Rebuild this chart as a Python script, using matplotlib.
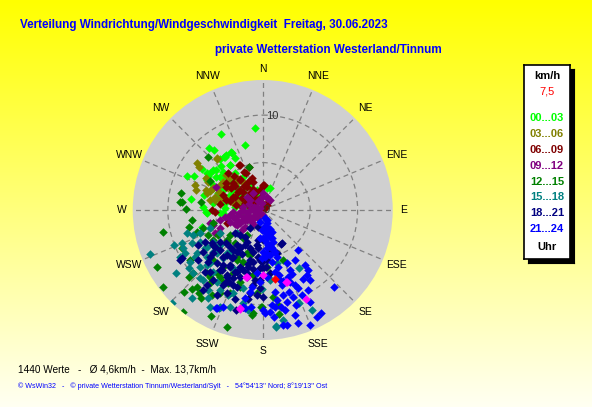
import numpy as np
import matplotlib.pyplot as plt

# Windvektoren (Ost-, Nord-Komponente in km/h) je Stundenblock
e_00 = [-0.84, -4.35, -1.89, -5.68, -5.16, -3.30, -4.04, -3.82, -2.95, -4.53, -3.40, -6.35, -4.42, -5.23,
        -5.86, -4.18, -2.95, -2.07, -7.93, -7.26, -5.72, -4.95, -4.11, -3.19, -1.44, -0.56, 0.74, -5.23,
        -7.51, -6.21, -4.70, -3.12, -4.00, -2.42, -1.72, -1.02, -4.18, -1.37, -2.07, -5.89, -6.32, -5.93,
        -6.35, -4.18,
        -3.97, -3.27, -3.45, -4.92, -5.55, -5.90, -4.50, -3.79, -3.10, -2.74, -4.15, -4.68, -3.45, -2.04,
        -1.34, -2.39, -2.92, -3.97, -5.21, -4.50, -1.87, -0.99, 0.42, -0.46, -1.34]
n_00 = [8.63, 7.96, 6.84, 6.49, 6.28, 6.07, 5.61, 5.79, 5.51, 5.37, 4.74, 4.28, 4.67, 4.21,
        3.89, 4.04, 3.93, 3.51, 3.54, 3.54, 3.58, 3.51, 3.44, 2.81, 2.98, 2.11, 2.28, 2.63,
        1.16, 1.54, 1.40, 1.93, 0.77, 1.40, 2.46, 1.23, 2.46, 0.28, -0.18, -0.35, 0.35, -0.18,
        -1.82, -0.35,
        5.62, 5.97, 4.74, 4.21, 3.86, 3.16, 3.51, 2.81, 3.16, 2.46, 2.11, 1.76, 1.58, 1.76,
        1.05, 0.88, 0.35, 0.18, 0.70, -0.35, 0.18, 0.18, 2.28, 1.40, 2.46]

e_03 = [-6.88, -6.70, -4.81, -7.16, -7.05, -6.00, -5.58, -5.23, -4.53, -4.18, -3.82, -3.54, -5.05, -5.58,
        -4.60, -3.47, -2.77, -2.07, -2.60, -1.37, -0.49, -5.93,
        -4.85, -5.73, -5.21, -5.90, -3.62, -2.74, -2.04, -1.69, -3.27, -3.97, -4.50, -2.74, -5.03]
n_03 = [4.98, 4.56, 5.33, 2.63, 2.11, 2.11, 2.04, 2.28, 2.63, 2.98, 3.68, 3.33, 1.05, 1.05,
        1.93, 2.46, 2.81, 2.98, 0.88, 1.40, 1.05, 3.33,
        5.44, 2.98, 2.28, 1.76, 2.28, 3.34, 2.98, 1.05, 0.88, 1.23, 1.05, 1.76, 1.40]

e_06 = [-2.42, -3.65, -2.42, -1.44, -1.72, 0.14, -5.30, -3.82, -3.12, -2.07, -1.37, -0.84, -0.14, 0.04,
        -2.77, -4.18, -3.30, -1.89, -0.49, 0.42, -0.98, -3.79, -5.02, -3.86, -2.39, 0.00,
        -2.00, -1.00, -2.60, -1.60, -3.40, -0.70, -2.20, -1.20, -0.30, -3.00, -2.00, -3.90, -1.10, -4.50,
        -2.90,
        -2.46, 0.07, -3.10, -2.39, -1.69, -0.99, -0.63, -0.11, 0.24, -1.34, -2.21, -2.92, -0.46, 0.42,
        -0.99]
n_06 = [4.74, 3.86, 3.23, 4.56, 3.86, 2.63, 0.00, 1.05, 1.40, 1.93, 1.75, 0.70, 1.40, 0.35,
        0.53, 1.58, 2.28, 0.70, 0.00, 0.70, 1.40, -1.40, -0.18, 2.81, 3.16, 2.53,
        2.50, 2.20, 1.90, 2.90, 1.00, 1.90, 0.30, 0.90, 2.10, 3.60, 4.00, 2.40, 3.40, 0.60,
        2.50,
        4.74, 2.63, 2.81, 2.11, 2.46, 1.93, 1.05, 0.70, 0.18, 0.35, 1.23, 1.40, -0.18, 0.53,
        2.98]

e_09 = [0.07, 0.42, -0.11, -0.63, -1.33, -1.68, -2.04, -2.39, -1.86, -1.16, -0.81, -0.28, -2.74, -3.09,
        -3.44, -3.96, -4.49, -5.19, -5.02, -4.56, -5.54, -1.33, -2.04, -0.98, -1.68, -0.28, -2.21, -1.51,
        -4.88, -0.90, -1.90, -2.50, -1.00, -0.50, -1.40, -2.90, -0.60,
        -2.04, -1.52, -0.99, -0.46, -1.69, -2.57, -0.11, 0.42, 0.77, -3.10, -3.62, 0.07, -0.81,
        -5.21, -4.50, -3.45, -2.74, -2.04, -1.34]
n_09 = [1.75, 1.23, 0.70, 0.35, 0.00, -0.35, -0.70, -1.40, -1.75, -1.23, -0.70, -0.35, -1.05, -0.70,
        -0.53, -0.70, -1.05, -1.40, -2.46, -2.28, -1.40, 1.05, 0.35, 1.75, 1.40, 0.18, -2.11, -0.88,
        2.46, 0.30, -1.10, -0.30, -1.50, 1.00, 0.60, -1.50, -0.20,
        0.00, -0.53, -0.70, -0.88, -1.05, -0.53, 1.40, 1.40, 1.05, -0.18, -0.70, -0.53, -0.18,
        -1.58, -1.93, -1.23, -1.58, -1.05, -0.88]

e_12 = [-5.79, -8.70, -10.46, -7.82, -8.53, -7.65, -7.72, -10.56, -7.47, -8.35, -6.70, -5.37, -3.72, -1.16,
        -5.89, -5.19, -4.67, -3.79, -3.44, -2.74, -4.14, -3.09, -2.39, -1.68, -2.04, -4.84, -5.54, -4.49,
        -3.44, -0.63, -0.11, 0.60, 1.12, 1.65, 2.18, -8.63, -8.56, -8.04, -6.46, -5.58, -1.44, 0.42,
        -0.18, 1.72,
        -7.48, -6.96, -6.26, -5.73, -5.21, -4.68, -3.79, -3.45, -2.92, -1.69, -2.74, -2.04, -1.34, -7.31,
        -6.96, -4.50, -3.62, -2.39, -0.99, -5.21,
        -11.19, -8.32, -5.40, -6.46, -1.02, -5.58, -4.18]
n_12 = [5.54, 0.88, -2.35, -1.75, -4.04, -5.26, -7.02, -8.07, -8.35, -10.70, -8.77, -8.95, -12.35, -11.05,
        -6.67, -5.26, -3.86, -3.16, -4.56, -5.26, -5.96, -6.67, -8.07, -4.56, -2.98, -6.67, -7.72, -8.77,
        -8.77, -8.77, -10.18, -7.02, -9.12, -10.00, -5.26, 1.79, 0.81, 0.11, 0.88, 3.05, 4.49, -5.96,
        -10.18, -10.98,
        -1.05, -2.29, -1.93, -2.63, -3.16, -2.63, -3.34, -2.63, -3.51, -2.63, -4.92, -5.45, -4.74, -6.67,
        -8.08, -7.03, -7.72, -7.55, -6.85, -1.40,
        -6.04, -8.60, -11.16, -9.30, -10.88, -7.02, -7.54]

e_15 = [-11.93, -9.58, -9.40, -8.53, -8.18, -7.30, -6.60, -6.95, -5.89, -6.60, -7.30, -6.25, -7.47, -5.72,
        -4.49, -3.44, -5.54, -4.56, -3.09, -2.04, 1.40, 2.18, 3.75, 5.16, 1.47, 0.77, -3.79, -4.49,
        -5.19, -2.74, -5.89, -5.54, -4.84, -7.82, -8.70, 3.86, 3.86, 1.37, -0.04,
        -8.01, -7.48, -8.36, -7.13, -7.66, -6.08, -6.61, -5.21, -5.90, -5.21, -4.85, -6.61, -4.15, -3.45,
        -4.50, -5.55, -3.10,
        -9.09, -5.75, -4.53, -1.54, -2.07, -3.65]
n_15 = [-4.63, -9.82, -3.68, -3.51, -4.56, -2.63, -2.46, -4.56, -4.91, -5.96, -6.67, -7.37, -9.30, -9.30,
        -8.42, -10.18, -10.18, -10.35, -8.77, -9.82, -12.28, -11.58, -9.82, -10.53, -5.61, -7.37, -4.56, -2.46,
        -3.33, -2.46, -3.86, -5.61, -4.56, -6.14, -4.91, -6.14, -9.82, -12.21, -8.32,
        -2.46, -3.51, -4.04, -4.92, -5.45, -4.04, -3.34, -4.39, -5.80, -6.50, -7.55, -7.20, -5.09, -4.39,
        -3.69, -1.93, -6.14,
        -6.67, -8.42, -10.18, -10.53, -8.25, -8.95]

e_18 = [-8.70, -6.77, -6.07, -5.19, -4.84, -4.14, -3.44, -2.74, -1.68, -0.46, 0.07, 0.77, -1.33, -2.39,
        -3.79, -3.44, -1.68, -0.81, -0.28, 0.42, 1.47, 2.00, -2.74, -1.33, -3.79, -4.84, -2.04, 0.07,
        0.77, -6.77, -5.72, -4.49, -3.09, -2.39, -0.98, 0.42, 0.77, -0.46, 1.93, 1.37, 0.07, -0.11,
        -0.63, -3.90, -3.10, -2.20, -1.60, -1.00, -2.90, -4.30, -5.20, -3.60, -2.40, -1.00, -0.30, 0.30,
        -0.50, -1.90, -5.60, -6.30, -2.90, -1.60,
        -5.37, -5.03, -4.50, -3.79, -3.27, -2.74, -2.39, -1.87, -1.34, -0.63, -4.15, -3.45, -2.74, -2.04,
        -1.52, -0.99, -0.46, -0.28, -1.69, -3.10, -3.79, -4.50, -2.39, -1.34, -2.92, -5.55, -6.08, -5.21,
        -5.90, -4.15, -8.54,
        -6.28, -3.82, -3.12, -0.32, -2.77]
n_18 = [-5.26, -3.68, -3.33, -3.68, -5.61, -4.91, -3.86, -3.68, -3.33, -3.16, -3.16, -4.21, -5.26, -5.96,
        -7.02, -5.96, -6.67, -7.37, -5.26, -5.26, -4.56, -3.51, -8.07, -8.77, -8.77, -8.95, -10.18, -9.12,
        -6.67, -5.26, -5.44, -3.33, -4.91, -3.86, -4.39, -2.46, -2.28, -1.75, -3.58, -4.56, -6.14, -5.44,
        -8.95, -3.50, -4.20, -4.60, -5.70, -6.20, -6.50, -6.30, -4.50, -7.60, -7.10, -7.90, -7.40, -6.00,
        -4.00, -2.80, -6.50, -4.40, -9.40, -9.40,
        -3.51, -3.87, -4.22, -4.74, -5.09, -4.39, -4.04, -3.69, -4.04, -3.69, -5.80, -5.80, -6.50, -6.32,
        -5.97, -5.45, -4.92, -6.14, -7.03, -7.20, -6.85, -6.32, -2.63, -1.93, -2.46, -4.92, -6.50, -7.38,
        -7.90, -7.90, -5.09,
        -8.42, -7.54, -7.89, -8.25, -10.53]

e_21 = [3.75, 3.40, 4.46, 4.81, 4.63, 2.88, 2.70, 2.88, 3.40, 4.81, 3.75, 4.11, 4.98, 3.23,
        2.53, 1.47, 0.95, 0.77, 2.35, 3.40, 2.53, 3.75, 6.14, 5.68, 4.98, 7.54, 4.98, 2.00,
        1.82, 1.30, 0.25, 1.30, 1.65, 2.53, 2.18, 0.25, 0.42, 0.60, 0.42, 0.77, 0.25, 0.60,
        0.95, 0.07, 0.77, 1.12, -0.11, -0.28, 1.30, 0.95, -4.84, -1.86, -4.95, -1.37, -2.07, 1.30,
        2.18, 0.50, 0.20, 0.80, 0.60, 0.30, 1.00, 0.40, 0.90, 0.50, 1.50, 1.00, 0.20, 1.70,
        2.10, 2.80, 3.50, 1.90, 1.20, 4.20, 3.10,
        -0.28, 0.24, 0.07, 0.42, -0.11, -0.63, -0.28, 0.42, -1.16,
        -4.18, 0.04, -1.89, -1.19]
n_21 = [-4.21, -5.26, -5.79, -6.32, -6.84, -6.32, -7.02, -7.54, -7.89, -8.42, -8.25, -8.95, -9.65, -9.12,
        -9.65, -9.47, -10.00, -10.70, -10.53, -11.05, -12.11, -11.93, -10.88, -11.23, -12.11, -8.07, -7.37, -7.89,
        -7.37, -8.60, -10.88, -6.49, -5.96, -5.61, -8.95, -0.88, -1.40, -1.93, -2.46, -2.81, -3.16, -3.68,
        -4.04, -4.39, -4.74, -3.33, -2.11, -2.98, -4.39, -2.28, -10.35, -10.35, -10.35, -8.60, -10.18, -10.18,
        -12.11, -1.10, -1.70, -2.00, -2.60, -2.40, -3.00, -3.50, -3.90, -4.60, -5.00, -5.50, -5.00, -6.80,
        -7.50, -8.60, -10.00, -10.20, -11.30, -7.30, -6.70,
        -1.23, -1.93, -2.98, -4.04, -5.09, -6.67, -7.55, -7.03, -8.08,
        -10.18, -10.53, -9.30, -10.18]

e_mag = [-1.61, 0.07, -2.39, 4.56, 2.53, -1.72, -2.42, 2.42]
n_mag = [-7.02, -6.84, -10.35, -9.40, -7.54, -7.02, -10.46, -7.54]
e_red = [1.30]
n_red = [-7.26]

gruppen = [(e_00, n_00, "#00FF00"), (e_03, n_03, "#808000"), (e_06, n_06, "#800000"),
           (e_09, n_09, "#800080"), (e_12, n_12, "#008000"), (e_15, n_15, "#008080"),
           (e_18, n_18, "#000080"), (e_21, n_21, "#0000FF"),
           (e_mag, n_mag, "#FF00FF"), (e_red, n_red, "#FF0000")]

richtungen = ["N", "NNE", "NE", "ENE", "E", "ESE", "SE", "SSE",
              "S", "SSW", "SW", "WSW", "W", "WNW", "NW", "NNW"]
legende = ["00...03", "03...06", "06...09", "09...12", "12...15", "15...18", "18...21", "21...24"]
leg_farben = ["#00FF00", "#808000", "#800000", "#800080", "#008000", "#008080", "#000080", "#0000FF"]
v_max = 13.7

plt.rcParams['font.family'] = ['Liberation Sans', 'DejaVu Sans']

fig = plt.figure(figsize=(5.92, 4.07), dpi=100)

# Hintergrund: Verlauf gelb -> hellgelb
bg = fig.add_axes([0, 0, 1, 1], zorder=-10)
grad = np.linspace(0, 1, 256).reshape(-1, 1)
top = np.array([1.0, 1.0, 0.0])
bot = np.array([1.0, 1.0, 0.95])
img = top + (bot - top) * grad[:, :, None]
bg.imshow(img, aspect='auto', extent=[0, 1, 0, 1])
bg.set_xlim(0, 1)
bg.set_ylim(0, 1)
bg.axis('off')

ax = fig.add_axes([0.2242, 0.1646, 0.4392, 0.6388], projection='polar')
ax.set_theta_zero_location('N')
ax.set_theta_direction(-1)
ax.set_facecolor('#D0D0D0')
ax.spines['polar'].set_visible(False)
ax.set_rlim(0, v_max)
ax.set_rgrids([5, 10], labels=['', ''])
ax.set_thetagrids(np.arange(0, 360, 22.5), labels=[''] * 16)
ax.grid(True, color='#808080', linestyle=(0, (4, 3)), linewidth=0.9)
ax.tick_params(pad=0)

for e, n, c in gruppen:
    e = np.array(e)
    n = np.array(n)
    theta = np.arctan2(e, n)
    r = np.hypot(e, n)
    ax.scatter(theta, r, s=19, marker='D', color=c, linewidths=0, zorder=3)

for i, lab in enumerate(richtungen):
    # Haupt-Himmelsrichtungen etwas naeher am Kreis
    rr = 14.85 if i % 4 == 0 else 15.25
    ax.text(np.deg2rad(i * 22.5), rr, lab, ha='center', va='center', fontsize=7.5,
            clip_on=False)
ax.text(np.deg2rad(6), 10.0, "10", ha='center', va='center', fontsize=8, color='#303030')
ax.text(np.deg2rad(90), 0.45, "0", ha='center', va='center', fontsize=8, color='#303030')

# Titel
fig.text(20 / 592, 1 - 25 / 407, "Verteilung Windrichtung/Windgeschwindigkeit  Freitag, 30.06.2023",
         color='#0000FF', fontsize=8.4, fontweight='bold', ha='left', va='center')
fig.text(215 / 592, 1 - 50 / 407, "private Wetterstation Westerland/Tinnum",
         color='#0000FF', fontsize=8.4, fontweight='bold', ha='left', va='center')

# Legende
box = fig.add_axes([524 / 592, 1 - 259 / 407, 46 / 592, 194 / 407], zorder=5)
shadow = fig.add_axes([528 / 592, 1 - 263 / 407, 46 / 592, 194 / 407], zorder=4)
shadow.set_facecolor('black')
shadow.set_xticks([])
shadow.set_yticks([])
box.set_facecolor('white')
box.set_xticks([])
box.set_yticks([])
for sp in box.spines.values():
    sp.set_linewidth(1.2)
cx = 547 / 592
fig.text(cx, 1 - 76 / 407, "km/h", ha='center', va='center', fontsize=8, fontweight='bold', zorder=6)
fig.text(cx, 1 - 92 / 407, "7,5", ha='center', va='center', fontsize=8, color='#FF0000', zorder=6)
for i, (lab, c) in enumerate(zip(legende, leg_farben)):
    fig.text(cx, 1 - (118 + i * 15.9) / 407, lab, ha='center', va='center', fontsize=8,
             fontweight='bold', color=c, zorder=6)
fig.text(cx, 1 - 247 / 407, "Uhr", ha='center', va='center', fontsize=8, fontweight='bold', zorder=6)

# Fusszeilen
fig.text(18 / 592, 1 - 369 / 407, "1440 Werte   -   Ø 4,6km/h  -  Max. 13,7km/h",
         ha='left', va='center', fontsize=7.2)
fig.text(18 / 592, 1 - 386 / 407,
         "© WsWin32   -   © private Wetterstation Tinnum/Westerland/Sylt   -   54°54'13'' Nord; 8°19'13'' Ost",
         ha='left', va='center', fontsize=5.1, color='#0000FF')

fig.savefig("out.png", dpi=100)
